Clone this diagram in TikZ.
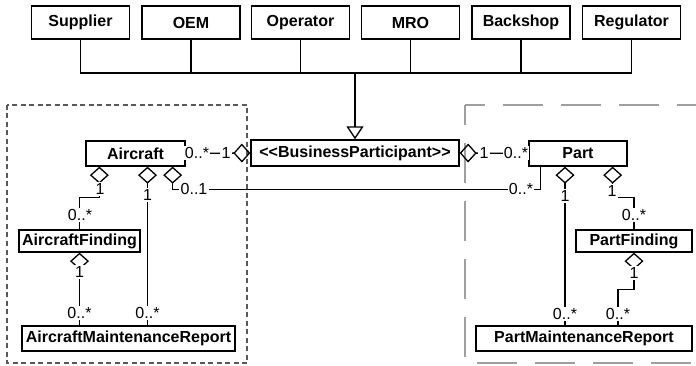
\documentclass[tikz,border=0pt]{standalone}
\usepackage{fontspec}
\setmainfont{Liberation Sans}
\usetikzlibrary{arrows.meta}

\begin{document}
\begin{tikzpicture}[x=1pt,y=-1pt,line width=1.3pt,
		font=\fontsize{16}{19}\selectfont,
		cls/.style={draw,font=\fontsize{16}{19}\selectfont\bfseries,inner sep=2pt},
		top/.style={cls,minimum width=98pt,minimum height=33pt},
		mult/.style={fill=white,inner sep=1.2pt},
		agg/.style={{Diamond[open,length=17pt,width=19pt]}-},
		gen/.style={-{Triangle[open,length=13pt,width=17pt]}}]
			\useasboundingbox (0,0) rectangle (696,366);
			\draw [gray!70!black, dash pattern=on 5pt off 3.5pt] (7,105) rectangle (247,363);
			\draw [gray!75, line width=1.6pt, dash pattern=on 40pt off 18pt, dash phase=20pt] (465,105) -- (700,105);
			\draw [gray!75, line width=1.6pt, dash pattern=on 40pt off 18pt, dash phase=20pt] (465,105) -- (465,363) -- (700,363);
			\node [top] (supplier) at (80.5,22.5) {Supplier};
			\node [top] (oem) at (191,22.5) {OEM};
			\node [top] (operator) at (300.5,22.5) {Operator};
			\node [top] (mro) at (410.5,22.5) {MRO};
			\node [top] (backshop) at (521,22.5) {Backshop};
			\node [top] (regulator) at (631.5,22.5) {Regulator};
			\coordinate (bus) at (355,73);
			\node [cls,minimum width=208pt,minimum height=26pt] (bp) at (355,153) {<\kern0pt<BusinessParticipant>\kern0pt>};
			\node [cls,minimum width=99pt,minimum height=25pt] (aircraft) at (135.5,153.5) {Aircraft};
			\node [cls,minimum width=98pt,minimum height=25pt] (part) at (578,153.5) {Part};
			\node [cls,minimum width=121pt,minimum height=22pt] (afinding) at (79.5,241) {AircraftFinding};
			\node [cls,minimum width=116pt,minimum height=22pt] (pfinding) at (634,241) {PartFinding};
			\node [cls,minimum width=213pt,minimum height=25pt] (areport) at (128.5,338.5) {AircraftMaintenanceReport};
			\node [cls,minimum width=216pt,minimum height=25pt] (preport) at (584,338.5) {PartMaintenanceReport};
			\draw (supplier.south) |- (bus);
			\draw (oem.south) |- (bus);
			\draw (operator.south) |- (bus);
			\draw (mro.south) |- (bus);
			\draw (backshop.south) |- (bus);
			\draw (regulator.south) |- (bus);
			\draw [gen] (bus) -- (bp.north);
			\draw [agg] (bp.west) -- (aircraft.east);
			\draw [agg] (bp.east) -- (part.west);
			\draw [agg] ([xshift=14pt]aircraft.south west) -- ++(0,31) -| (afinding.north);
			\draw [agg] ([xshift=12pt]aircraft.south) -- ([xshift=12pt]aircraft.south |- areport.north);
			\draw [agg] ([xshift=-13pt]aircraft.south east) -- ++(0,23) -| ([xshift=12pt]part.south west);
			\draw [agg] ([xshift=-13pt]part.south) -- ([xshift=-13pt]part.south |- preport.north);
			\draw [agg] ([xshift=-15pt]part.south east) -- ++(0,31) -| (pfinding.north);
			\draw [agg] (afinding.south) -- (afinding.south |- areport.north);
			\draw [agg] (pfinding.south) -- ++(0,37) -| ([xshift=-16pt]pfinding.south |- preport.north);
			\node [mult] (m1) at (197,153) {0..*};
			\node [mult] (m2) at (226,153) {1};
			\node [mult] (m3) at (484,153) {1};
			\node [mult] (m4) at (516,153) {0..*};
			\node [mult] (m5) at (100,189) {1};
			\node [mult] (m6) at (80,215) {0..*};
			\node [mult] (m7) at (147.5,195) {1};
			\node [mult] (m8) at (147.5,313) {0..*};
			\node [mult] (m9) at (194,189) {0..1};
			\node [mult] (m10) at (521,189) {0..*};
			\node [mult] (m11) at (565,196) {1};
			\node [mult] (m12) at (565,314) {0..*};
			\node [mult] (m13) at (612,191) {1};
			\node [mult] (m14) at (634,215) {0..*};
			\node [mult] (m15) at (79.5,272) {1};
			\node [mult] (m16) at (79.5,313) {0..*};
			\node [mult] (m17) at (634,273) {1};
			\node [mult] (m18) at (618,314) {0..*};
		\end{tikzpicture}
\end{document}
